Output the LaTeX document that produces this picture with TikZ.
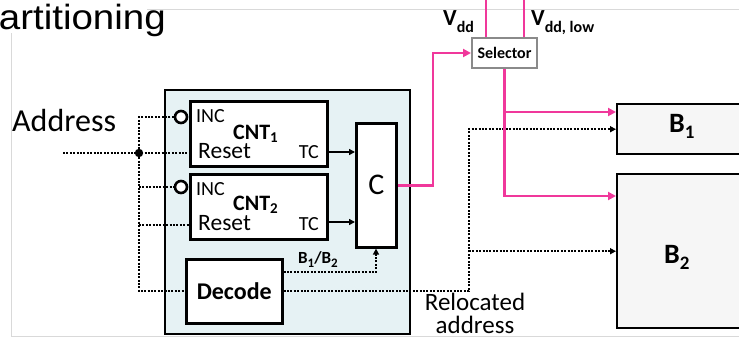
\documentclass[tikz,border=0pt]{standalone}
\usepackage{fontspec}
\setmainfont{Carlito}
\newfontfamily\arialf{Liberation Sans}
\usetikzlibrary{arrows.meta,calc}
\definecolor{pinkc}{HTML}{F0389B}
\definecolor{bluebg}{HTML}{E6F2F4}
\definecolor{boxgray}{HTML}{F6F6F6}
\definecolor{framegray}{HTML}{D9D9D9}
\definecolor{selgray}{HTML}{8A8A8A}
\newcommand\setfs[1]{\fontsize{#1}{#1}\selectfont}
\begin{document}
\begin{tikzpicture}[x=1pt,y=-1pt,
  blk/.style={draw=black, line width=2.6pt, fill=white, inner sep=0pt, anchor=north west},
  bbox/.style={draw=black, line width=2.4pt, fill=boxgray, inner sep=0pt, anchor=north west},
  dotl/.style={line width=2pt, dash pattern=on 2pt off 1.4pt},
  arr/.style={-{Triangle[length=6pt,width=6pt]}},
  parr/.style={-{Triangle[length=8pt,width=8pt]}},
  pk/.style={draw=pinkc, line width=2.6pt},
  txt/.style={inner sep=0pt},
  incc/.style={circle, draw=black, line width=2.6pt, fill=white, minimum size=12pt, inner sep=0pt}]
\fill[white] (0,0) rectangle (739,338);
\useasboundingbox (0,0) rectangle (739,338);
% frame
\draw[framegray, line width=1pt] (147,9) -- (739,9);
\draw[framegray, line width=1pt] (11.5,33) -- (11.5,336.5) -- (739,336.5);
\node[txt, anchor=base east, font=\arialf\setfs{35}] (title) at (166,29) {\scalebox{1.1}[1]{artitioning}};
% main blue box
\node[draw=black, line width=1.8pt, fill=bluebg, inner sep=0pt, anchor=north west, minimum width=245pt, minimum height=244pt] (main) at (164,89) {};
% boxes
\node[blk, minimum width=137pt, minimum height=65pt] (cnt1) at (189,100) {};
\node[blk, minimum width=137pt, minimum height=65pt] (cnt2) at (189,173) {};
\node[blk, minimum width=96pt, minimum height=64pt] (decode) at (185,258) {};
\node[blk, minimum width=40pt, minimum height=124pt] (c) at (355,122) {};
\node[bbox, minimum width=140pt, minimum height=50pt] (b1) at (616,103) {};
\node[bbox, minimum width=140pt, minimum height=154pt] (b2) at (616,173) {};
\node[draw=selgray, line width=2pt, fill=white, inner sep=0pt, anchor=north west, minimum width=65pt, minimum height=30pt] (sel) at (471,37) {};
\node[incc] (inc1) at (181,117) {};
\node[incc] (inc2) at (181,187) {};
% texts
\node[txt, anchor=base west, font=\setfs{32}] (addr) at (12,131) {Address};
\node[txt, anchor=base west, font=\setfs{20}] (inc1t) at (196,122) {INC};
\node[txt, anchor=base west, font=\setfs{20}] (inc2t) at (196,195) {INC};
\node[txt, anchor=base west, font=\bfseries\setfs{22}] (cnt1t) at (233,139) {CNT\raisebox{-3pt}{\setfs{15}1}};
\node[txt, anchor=base west, font=\bfseries\setfs{22}] (cnt2t) at (233,210) {CNT\raisebox{-3pt}{\setfs{15}2}};
\node[txt, anchor=base west, font=\setfs{23.5}] (res1) at (198,158) {Reset};
\node[txt, anchor=base west, font=\setfs{23.5}] (res2) at (198,230) {Reset};
\node[txt, anchor=base east, font=\setfs{20}] (tc1t) at (319,158) {TC};
\node[txt, anchor=base east, font=\setfs{20}] (tc2t) at (319,230) {TC};
\node[txt, font=\bfseries\setfs{24}] (dect) at (decode.center) {Decode};
\node[txt, font=\setfs{30}] (ct) at (c.center) {C};
\node[txt, anchor=base west, font=\bfseries\setfs{17}] (b12) at (298,263) {B\raisebox{-4pt}{\setfs{13}1}/B\raisebox{-4pt}{\setfs{13}2}};
\node[txt, font=\bfseries\setfs{16}] (selt) at (sel.center) {Selector};
\node[txt, anchor=base west, font=\bfseries\setfs{23}] (vdd) at (443,25) {V\raisebox{-7pt}{\setfs{16}dd}};
\node[txt, anchor=base west, font=\bfseries\setfs{23}] (vddl) at (531,25) {V\raisebox{-7pt}{\setfs{16}dd, low}};
\node[txt, anchor=base west, font=\bfseries\setfs{28}] (b1t) at (669,132) {B\raisebox{-6pt}{\setfs{19}1}};
\node[txt, anchor=base west, font=\bfseries\setfs{28}] (b2t) at (664,263) {B\raisebox{-6pt}{\setfs{19}2}};
\node[txt, anchor=base, font=\setfs{25}] (rel1) at (475,310) {Relocated};
\node[txt, anchor=base, font=\setfs{25}] (rel2) at (475,333) {address};
% coordinates
\coordinate (ain) at (63,153);
\coordinate (j) at (139,153);
\coordinate (r2) at (139,225);
\coordinate (tc1) at (326,152);
\coordinate (tc2) at (326,222);
\coordinate (bb) at (376,272);
\coordinate (rlx) at (469,0);
\coordinate (px) at (433,0);
\coordinate (b1p) at (616,112);
\coordinate (b2p) at (616,196);
\coordinate (v1) at (486,0);
\coordinate (v2) at (524,0);
% dotted address lines
\draw[dotl] (ain) -- (cnt1.west |- j);
\draw[dotl] (inc1.west) -- (inc1.west -| j) -- (decode.west -| j) -- (decode.west);
\draw[dotl] (inc2.west -| j) -- (inc2.west);
\draw[dotl] (r2) -- (cnt2.west |- r2);
\fill (j) circle (4.2);
% TC arrows
\draw[arr, line width=1.6pt] (cnt1.east |- tc1) -- (c.west |- tc1);
\draw[arr, line width=1.6pt] (cnt2.east |- tc2) -- (c.west |- tc2);
% B1/B2 select
\draw[dotl, arr] (decode.east |- bb) -- (bb) -- (c.south -| bb);
% relocated address
\draw[dotl, arr] (decode.east) -- (decode.east -| rlx) -- (rlx |- b1.west) -- (b1.west);
\draw[dotl, arr] (rlx |- b2.west) -- (b2.west);
% pink power lines
\draw[pk, parr] (c.east) -- (c.east -| px) -- (px |- sel.west) -- (sel.west);
\draw[pk] (v1) -- (v1 |- sel.north);
\draw[pk] (v2) -- (v2 |- sel.north);
\draw[pk, parr] (sel.south) -- (sel.south |- b2p) -- (b2p);
\draw[pk, parr] (sel.south |- b1p) -- (b1p);
\end{tikzpicture}
\end{document}
